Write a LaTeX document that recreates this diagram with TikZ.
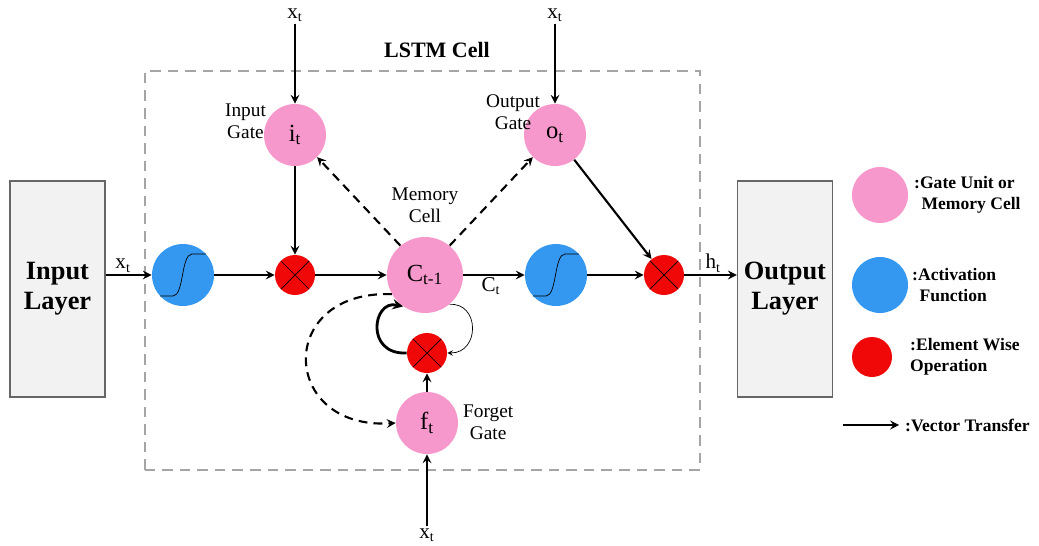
\documentclass[tikz,border=0pt]{standalone}
\usepackage{fontspec}
\setmainfont{Liberation Serif}
\usepackage{tikz}
\usetikzlibrary{arrows,positioning}
\definecolor{pinkball}{RGB}{246,152,204}
\definecolor{blueball}{RGB}{52,152,240}
\definecolor{redball}{RGB}{240,8,8}
\definecolor{layergray}{RGB}{242,242,242}
\definecolor{framegray}{RGB}{165,165,165}
\tikzstyle{layer} = [rectangle, minimum width=1.9cm, minimum height=4.32cm, draw=black!60, fill=layergray, thick, align=center, font=\fontsize{15}{17}\selectfont\bfseries]
\tikzstyle{gate} = [circle, minimum size=1.24cm, fill=pinkball, inner sep=0pt, font=\fontsize{14}{16}\selectfont]
\tikzstyle{memory} = [circle, minimum size=1.52cm, fill=pinkball, inner sep=0pt, font=\fontsize{14}{16}\selectfont]
\tikzstyle{act} = [circle, minimum size=1.24cm, fill=blueball, inner sep=0pt,
  path picture={\draw[black] ([shift={(-0.7,-0.42)}]path picture bounding box.center) -- ([shift={(-0.2,-0.42)}]path picture bounding box.center) .. controls ([shift={(0.02,-0.42)}]path picture bounding box.center) and ([shift={(-0.04,0.42)}]path picture bounding box.center) .. ([shift={(0.18,0.42)}]path picture bounding box.center) -- ([shift={(0.7,0.42)}]path picture bounding box.center);}]
\tikzstyle{mult} = [circle, minimum size=0.8cm, fill=redball, inner sep=0pt,
  path picture={\draw[black] (path picture bounding box.south west) -- (path picture bounding box.north east) (path picture bounding box.north west) -- (path picture bounding box.south east);}]
\tikzstyle{lbl} = [font=\fontsize{11}{12.5}\selectfont, align=center, inner sep=1pt]
\tikzstyle{sym} = [font=\fontsize{12}{14}\selectfont, inner sep=1pt]
\tikzstyle{legend} = [font=\fontsize{10}{12}\selectfont\bfseries, align=left, anchor=west]
\tikzstyle{arrow} = [line width=1.2pt,->,>=stealth]
\tikzstyle{dasharrow} = [line width=1.2pt,dash pattern=on 5pt off 3.5pt,->,>=stealth]

\begin{document}
\begin{tikzpicture}
\useasboundingbox (0,0) rectangle (20.78,10.9);
% frame of the cell
\draw[framegray, thick, dash pattern=on 6pt off 4pt] (2.9,1.5) rectangle (14.0,9.48);
\node (title) at (8.74,9.9) {\fontsize{12.5}{14}\selectfont\bfseries LSTM Cell};
% layers
\node (inlayer) [layer] at (1.15,5.12) {Input\\Layer};
\node (outlayer) [layer] at (15.7,5.12) {Output\\Layer};
% main row
\node (blue1) [act] at (3.66,5.4) {};
\node (red1) [mult, right of=blue1, xshift=1.24cm] {};
\node (mem) [memory, right of=red1, xshift=1.6cm] {C\textsubscript{t-1}};
\node (blue2) [act, right of=mem, xshift=1.62cm] {};
\node (red2) [mult, right of=blue2, xshift=1.16cm] {};
% gates
\node (igate) [gate, above of=red1, yshift=1.8cm] {i\textsubscript{t}};
\node (ogate) [gate, above of=blue2, yshift=1.8cm, xshift=-0.02cm] {o\textsubscript{t}};
\node (fmul) [mult, below of=mem, yshift=-0.56cm, xshift=0.04cm] {};
\node (fgate) [gate, below of=fmul, yshift=-0.4cm] {f\textsubscript{t}};
% inputs
\node (xin1) [sym, above of=igate, yshift=1.4cm] {x\textsubscript{t}};
\node (xin2) [sym, above of=ogate, yshift=1.4cm] {x\textsubscript{t}};
\node (xin3) [sym, below of=fgate, yshift=-1.24cm] {x\textsubscript{t}};
% labels
\node (ilbl) [lbl, anchor=east] at (5.36,8.48) {Input\\Gate};
\node (olbl) [lbl, anchor=east] at (10.84,8.66) {Output\\Gate};
\node (mlbl) [lbl] at (8.5,6.8) {Memory\\Cell};
\node (flbl) [lbl, anchor=west] at (9.22,2.46) {Forget\\Gate};
% vector transfer
\draw[arrow] (inlayer.east |- blue1) -- node[sym, above, pos=0.38] {x\textsubscript{t}} (blue1.west);
\draw[arrow] (blue1) -- (red1);
\draw[arrow] (red1) -- (mem);
\draw[arrow] (mem) -- node[sym, below, pos=0.45] {C\textsubscript{t}} (blue2);
\draw[arrow] (blue2) -- (red2);
\draw[arrow] (red2) -- node[sym, above, pos=0.55] {h\textsubscript{t}} (outlayer.west |- red2);
\draw[arrow] (xin1) -- (igate);
\draw[arrow] (igate) -- (red1);
\draw[arrow] (xin2) -- (ogate);
\draw[arrow] (ogate) -- (red2);
\draw[arrow] (xin3) -- (fgate);
\draw[arrow] (fgate) -- (fmul);
\draw[line width=1.6pt,->,>=stealth] (fmul.west) .. controls (7.3,3.8) and (7.45,4.9) .. (mem.235);
\draw[->,>=stealth] (mem.-50) .. controls (9.6,4.85) and (9.6,3.84) .. (fmul.east);
% peepholes
\draw[dasharrow] (mem.130) -- (igate.-45);
\draw[dasharrow] (mem.50) -- (ogate.-135);
\draw[dasharrow] (mem.210) .. controls (5.5,5.1) and (5.6,2.3) .. (fgate.west);
% legend
\node (lgate) [circle, minimum size=1.12cm, fill=pinkball] at (17.6,7.0) {};
\node (lgatetxt) [legend] at (18.16,7.0) {:Gate Unit or\\\ \,Memory Cell};
\node (lact) [circle, minimum size=1.12cm, fill=blueball] at (17.6,5.2) {};
\node (lacttxt) [legend] at (18.12,5.2) {:Activation\\\ \,Function};
\node (lmul) [circle, minimum size=0.8cm, fill=redball] at (17.44,3.76) {};
\node (lmultxt) [legend] at (18.08,3.76) {:Element Wise\\Operation};
\coordinate (lstart) at (16.86,2.4);
\node (lvectxt) [legend] at (17.98,2.4) {:Vector Transfer};
\draw[arrow] (lstart) -- (lvectxt.west);
\end{tikzpicture}
\end{document}
